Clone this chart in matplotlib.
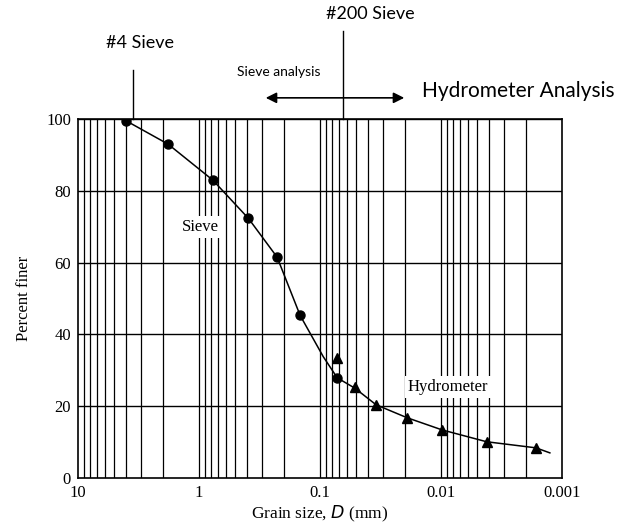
import numpy as np
import matplotlib
matplotlib.use("Agg")
import matplotlib.pyplot as plt

# sieve test results (circles)
sieve_d = [4.0, 1.8, 0.77, 0.39, 0.226, 0.146, 0.072]
sieve_pct = [99.5, 93.0, 83.0, 72.3, 61.5, 45.3, 27.9]

# hydrometer test results (triangles)
hydro_d = [0.072, 0.0514, 0.0344, 0.0191, 0.0098, 0.0042, 0.00164]
hydro_pct = [33.5, 25.4, 20.4, 16.8, 13.4, 10.1, 8.4]

# hand-drawn distribution curve
curve_d = [4.0, 1.8, 0.77, 0.39, 0.226, 0.146, 0.094, 0.072, 0.0514,
           0.0344, 0.0191, 0.0098, 0.0042, 0.00164, 0.00126]
curve_pct = [99.5, 93.0, 83.0, 72.3, 61.5, 45.3, 33.8, 27.9, 25.0,
             20.4, 16.8, 13.4, 10.1, 8.4, 7.0]

sieve4_d = 3.5
sieve200_d = 0.064

x_ticks = [10, 1, 0.1, 0.01, 0.001]
x_labels = ["10", "1", "0.1", "0.01", "0.001"]
y_ticks = [0, 20, 40, 60, 80, 100]

serif = "Liberation Serif"
hand = "Lato"

fig = plt.figure(figsize=(6.29, 5.29), dpi=100)
ax = fig.add_axes([0.124, 0.0964, 0.7695, 0.6786])

ax.set_xscale("log")
ax.set_xlim(10, 0.001)
ax.set_ylim(0, 100)

# log paper grid
minor = [m * 10.0 ** e for e in range(-3, 1) for m in range(1, 10)]
for d in minor:
    if 0.001 < d < 10:
        ax.axvline(d, color="black", lw=0.9, zorder=1)
for v in y_ticks[1:]:
    ax.axhline(v, color="black", lw=1.0, zorder=1)

ax.plot(curve_d, curve_pct, color="black", lw=1.1, zorder=3)
ax.plot(sieve_d, sieve_pct, "o", color="black", ms=6.5, zorder=4)
ax.plot(hydro_d, hydro_pct, "^", color="black", ms=6.5, zorder=4)

ax.text(0.98, 70, "Sieve", fontsize=12, family=serif, ha="center", va="center",
        bbox=dict(facecolor="white", edgecolor="none", pad=2), zorder=5)
ax.text(0.00875, 25.4, "Hydrometer", fontsize=12, family=serif, ha="center", va="center",
        bbox=dict(facecolor="white", edgecolor="none", pad=2), zorder=5)

ax.set_xticks(x_ticks)
ax.set_xticklabels(x_labels)
ax.set_yticks(y_ticks)
ax.xaxis.set_minor_locator(matplotlib.ticker.NullLocator())
ax.tick_params(axis="x", length=0, pad=5, labelsize=12)
ax.tick_params(axis="y", length=0, pad=5, labelsize=12)
for lbl in ax.get_xticklabels() + ax.get_yticklabels():
    lbl.set_family(serif)

ax.set_xlabel("Grain size, $D$ (mm)", fontsize=12.5, family=serif, labelpad=2)
ax.set_ylabel("Percent finer", fontsize=12, family=serif, labelpad=10)
for s in ax.spines.values():
    s.set_linewidth(1.2)

# sieve markers and analysis notes above the chart
ax.plot([sieve4_d, sieve4_d], [100, 113.7], color="black", lw=1, clip_on=False)
ax.plot([sieve200_d, sieve200_d], [100, 124.6], color="black", lw=1, clip_on=False)
ax.annotate("", xy=(0.296, 105.9), xytext=(0.0191, 105.9),
            arrowprops=dict(arrowstyle="<|-|>", color="black", lw=1.2, mutation_scale=16),
            annotation_clip=False)
ax.text(3.07, 121.2, "#4 Sieve", fontsize=13, family=hand, ha="center", va="center")
ax.text(0.0386, 129.3, "#200 Sieve", fontsize=13, family=hand, ha="center", va="center")
ax.text(0.218, 113.1, "Sieve analysis", fontsize=10, family=hand, ha="center", va="center")
ax.text(0.00231, 107.8, "Hydrometer Analysis", fontsize=15, family=hand, ha="center", va="center")

fig.savefig("out.png", dpi=100)
